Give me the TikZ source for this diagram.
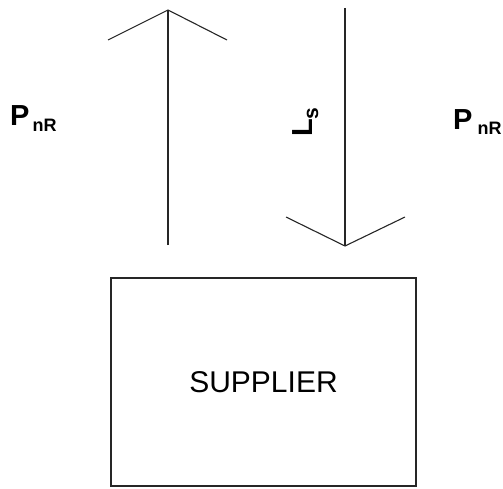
\documentclass[tikz,border=0pt]{standalone}
\usepackage{fontspec}
\setmainfont{Liberation Sans}
\begin{document}
\begin{tikzpicture}[x=1pt,y=-1pt,
  conn/.style={line width=1.1pt, draw=black!85},
  lbl/.style={inner sep=0pt, font=\bfseries\fontsize{29}{32}\selectfont}]
\useasboundingbox (0,0) rectangle (503,489);
% supplier box
\node[draw=black!85, line width=1.4pt, minimum width=305pt, minimum height=208pt, inner sep=0pt,
      font=\fontsize{30}{34}\selectfont] (sup) at (263.5,382) {SUPPLIER};
% up arrow
\coordinate (upbase) at (168,245);
\coordinate (uptip) at (168,10);
\coordinate (upL) at (108,40);
\coordinate (upR) at (227,40);
\draw[conn] (upbase) -- (uptip);
\draw[conn] (upL) -- (uptip) -- (upR);
% down arrow
\coordinate (dntop) at (345,8);
\coordinate (dntip) at (345,246);
\coordinate (dnL) at (286,217);
\coordinate (dnR) at (405,217);
\draw[conn] (dntop) -- (dntip);
\draw[conn] (dnL) -- (dntip) -- (dnR);
% labels
\node[lbl, anchor=base west] (p1) at (10,126) {P\hspace{3pt}\raisebox{-6pt}{\fontsize{18}{20}\selectfont nR}};
\node[lbl, anchor=base west] (p2) at (453,130) {P\hspace{5pt}\raisebox{-5pt}{\fontsize{18}{20}\selectfont nR}};
\node[lbl, anchor=base west, rotate=90] (ls) at (312,137) {L\raisebox{-6pt}{\fontsize{21}{24}\selectfont s}};
\end{tikzpicture}
\end{document}
